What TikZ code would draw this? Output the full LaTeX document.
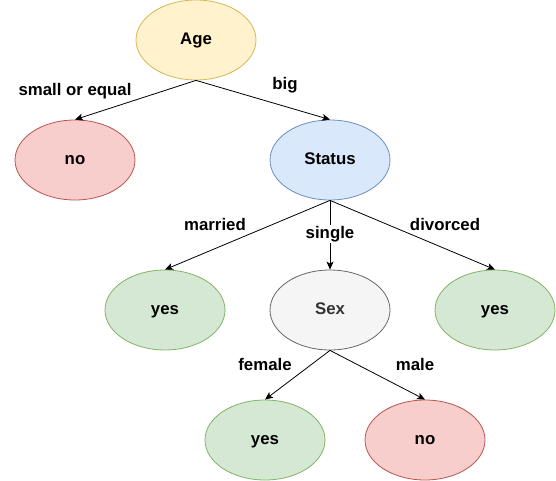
\documentclass[tikz,border=0pt]{standalone}
\usepackage{fontspec}
\setmainfont{Liberation Sans}
\usetikzlibrary{arrows.meta,shapes.geometric}
\definecolor{yfill}{HTML}{FFF2CC}\definecolor{ydraw}{HTML}{D6B656}
\definecolor{rfill}{HTML}{F8CECC}\definecolor{rdraw}{HTML}{B85450}
\definecolor{bfill}{HTML}{DAE8FC}\definecolor{bdraw}{HTML}{6C8EBF}
\definecolor{gfill}{HTML}{D5E8D4}\definecolor{gdraw}{HTML}{82B366}
\definecolor{sfill}{HTML}{F5F5F5}\definecolor{sdraw}{HTML}{666666}
\definecolor{stext}{HTML}{333333}
\begin{document}
\begin{tikzpicture}[x=1pt,y=-1pt,
  every node/.style={font=\fontsize{16.8}{19}\selectfont\bfseries},
  leaf/.style={ellipse, minimum width=120pt, minimum height=80pt, inner sep=0pt, line width=0.8pt, text height=12pt, text depth=3pt},
  yelnode/.style={leaf, fill=yfill, draw=ydraw},
  rednode/.style={leaf, fill=rfill, draw=rdraw},
  blunode/.style={leaf, fill=bfill, draw=bdraw},
  grnnode/.style={leaf, fill=gfill, draw=gdraw},
  grynode/.style={leaf, fill=sfill, draw=sdraw, text=stext},
  conn/.style={draw=black, line width=0.8pt, -{Stealth[length=8pt,width=7pt,inset=2pt]}},
  lbl/.style={inner sep=1pt}]
\useasboundingbox (0,0) rectangle (556,481);
\node[yelnode] (age) at (196,40) {Age};
\node[rednode] (no1) at (75,160) {no};
\node[blunode] (status) at (330,160) {Status};
\node[grnnode] (yes1) at (165,310) {yes};
\node[grynode] (sex) at (330,310) {Sex};
\node[grnnode] (yes2) at (495,310) {yes};
\node[grnnode] (yes3) at (265,440) {yes};
\node[rednode] (no2) at (425,440) {no};
\path[conn] (age.south) -- (no1.north);
\path[conn] (age.south) -- (status.north);
\path[conn] (status.south) -- (yes1.north);
\path[conn] (status.south) -- node[fill=white, lbl, pos=0.49] (lsingle) {single} (sex.north);
\path[conn] (status.south) -- (yes2.north);
\path[conn] (sex.south) -- (yes3.north);
\path[conn] (sex.south) -- (no2.north);
\node[lbl] (lsmall) at (75,91) {small or equal};
\node[lbl] (lbig) at (285,85) {big};
\node[lbl] (lmarried) at (215,224) {married};
\node[lbl] (ldivorced) at (445,224) {divorced};
\node[lbl] (lfemale) at (265,364) {female};
\node[lbl] (lmale) at (415,364) {male};
\end{tikzpicture}
\end{document}
